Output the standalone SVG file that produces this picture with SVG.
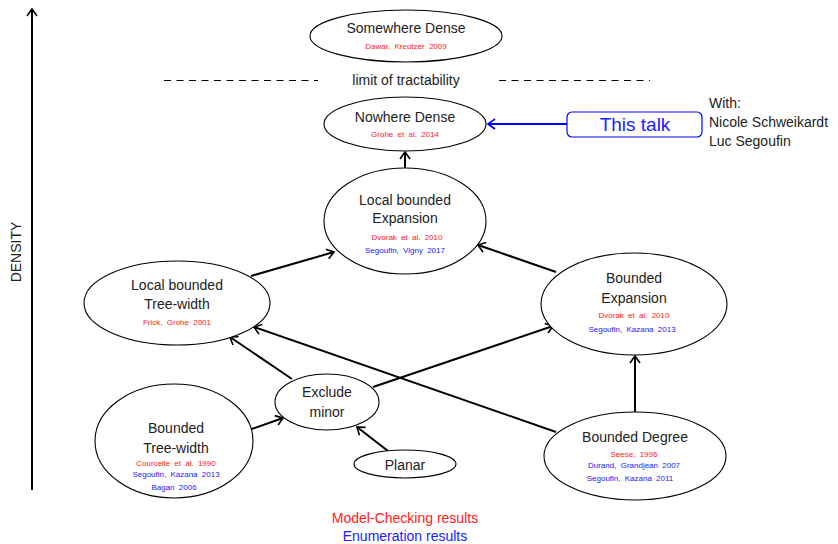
<svg xmlns="http://www.w3.org/2000/svg" width="838" height="544" viewBox="0 0 838 544">
  <style>
    text { font-family: "Liberation Sans", Arial, sans-serif; fill: #222; }
    .lbl { font-size: 14px; text-anchor: middle; }
    .cite { font-size: 8px; text-anchor: middle; word-spacing: 2px; }
    .red { fill: #ff2020; }
    .blue { fill: #2020ff; }
    .node { fill: #fff; stroke: #000; stroke-width: 1.1; }
    .edge { stroke: #000; stroke-width: 2; fill: none; marker-end: url(#arr); }
  </style>
  <defs>
    <marker id="arr" markerUnits="userSpaceOnUse" viewBox="-10 -7 12 14" markerWidth="12" markerHeight="14" refX="0" refY="0" orient="auto">
      <path d="M -7 -5 Q -2 -1.5 0 0 Q -2 1.5 -7 5" fill="none" stroke="#000" stroke-width="1.6"/>
    </marker>
    <marker id="arrBlue" markerUnits="userSpaceOnUse" viewBox="-10 -7 12 14" markerWidth="12" markerHeight="14" refX="0" refY="0" orient="auto">
      <path d="M -7 -5 Q -2 -1.5 0 0 Q -2 1.5 -7 5" fill="none" stroke="#0000ff" stroke-width="1.6"/>
    </marker>
  </defs>

  <!-- density axis -->
  <g id="axis">
    <line x1="32" y1="490" x2="32" y2="9" class="edge" stroke-width="1.6"/>
    <text class="lbl" transform="translate(21,252) rotate(-90)">DENSITY</text>
  </g>

  <!-- tractability boundary -->
  <g id="limit">
    <line x1="164" y1="80.5" x2="318" y2="80.5" stroke="#000" stroke-width="1" stroke-dasharray="7,5.5"/>
    <line x1="499" y1="80.5" x2="650" y2="80.5" stroke="#000" stroke-width="1" stroke-dasharray="7,5.5"/>
    <text class="lbl" x="406" y="85">limit of tractability</text>
  </g>

  <!-- connectors -->
  <g id="edges">
    <line class="edge" x1="405" y1="172" x2="405" y2="152"/>
    <line class="edge" x1="251" y1="276" x2="334" y2="252"/>
    <line class="edge" x1="556" y1="272" x2="478" y2="245"/>
    <line class="edge" x1="292" y1="379" x2="230" y2="337"/>
    <line class="edge" x1="556" y1="432" x2="254" y2="327"/>
    <line class="edge" x1="373" y1="387" x2="553" y2="326"/>
    <line class="edge" x1="249" y1="430" x2="283" y2="418"/>
    <line class="edge" x1="388" y1="451" x2="357" y2="427"/>
    <line class="edge" x1="635" y1="412" x2="635" y2="356"/>
    <line x1="567" y1="124" x2="488" y2="124" stroke="#0000ff" stroke-width="2" marker-end="url(#arrBlue)"/>
  </g>

  <g id="somewhere-dense">
    <ellipse class="node" cx="406" cy="36" rx="96" ry="26"/>
    <text class="lbl" x="406" y="33">Somewhere Dense</text>
    <text class="cite red" x="406" y="49">Dawar, Kreutzer 2009</text>
  </g>

  <g id="nowhere-dense">
    <ellipse class="node" cx="405" cy="124" rx="81" ry="27"/>
    <text class="lbl" x="405" y="122">Nowhere Dense</text>
    <text class="cite red" x="405" y="137">Grohe et al. 2014</text>
  </g>

  <g id="local-bounded-expansion">
    <ellipse class="node" cx="405" cy="221" rx="81" ry="53"/>
    <text class="lbl" x="405" y="205">Local bounded</text>
    <text class="lbl" x="405" y="223">Expansion</text>
    <text class="cite red" x="407" y="240">Dvorak et al. 2010</text>
    <text class="cite blue" x="405" y="253">Segoufin, Vigny 2017</text>
  </g>

  <g id="local-bounded-treewidth">
    <ellipse class="node" cx="177" cy="303" rx="93" ry="42"/>
    <text class="lbl" x="177" y="290">Local bounded</text>
    <text class="lbl" x="177" y="309">Tree-width</text>
    <text class="cite red" x="177" y="325">Frick, Grohe 2001</text>
  </g>

  <g id="bounded-expansion">
    <ellipse class="node" cx="634" cy="304" rx="93" ry="51"/>
    <text class="lbl" x="634" y="283">Bounded</text>
    <text class="lbl" x="634" y="303">Expansion</text>
    <text class="cite red" x="634" y="318">Dvorak et al. 2010</text>
    <text class="cite blue" x="632" y="332">Segoufin, Kazana 2013</text>
  </g>

  <g id="exclude-minor">
    <ellipse class="node" cx="327" cy="402" rx="52" ry="28"/>
    <text class="lbl" x="327" y="397">Exclude</text>
    <text class="lbl" x="327" y="417">minor</text>
  </g>

  <g id="bounded-treewidth">
    <ellipse class="node" cx="174" cy="441" rx="79" ry="57"/>
    <text class="lbl" x="176" y="433">Bounded</text>
    <text class="lbl" x="176" y="453">Tree-width</text>
    <text class="cite red" x="176" y="466">Courcelle et al. 1990</text>
    <text class="cite blue" x="176" y="477">Segoufin, Kazana 2013</text>
    <text class="cite blue" x="174" y="490">Bagan 2006</text>
  </g>

  <g id="planar">
    <ellipse class="node" cx="405" cy="464" rx="51" ry="14"/>
    <text class="lbl" x="405" y="470">Planar</text>
  </g>

  <g id="bounded-degree">
    <ellipse class="node" cx="635" cy="456" rx="91" ry="44"/>
    <text class="lbl" x="635" y="442">Bounded Degree</text>
    <text class="cite red" x="634" y="457">Seese, 1996</text>
    <text class="cite blue" x="634" y="468">Durand, Grandjean 2007</text>
    <text class="cite blue" x="630" y="481">Segoufin, Kazana 2011</text>
  </g>

  <g id="this-talk">
    <rect x="567" y="112" width="135" height="25" rx="5" ry="5" fill="#fff" stroke="#0000ff" stroke-width="1.2"/>
    <text x="635" y="131" text-anchor="middle" font-size="19" class="blue">This talk</text>
  </g>

  <g id="coauthors">
    <text x="709" y="108" font-size="14">With:</text>
    <text x="709" y="127" font-size="14">Nicole Schweikardt</text>
    <text x="709" y="146" font-size="14">Luc Segoufin</text>
  </g>

  <g id="legend">
    <text class="lbl red" x="405" y="523">Model-Checking results</text>
    <text class="lbl blue" x="405" y="541">Enumeration results</text>
  </g>
</svg>
